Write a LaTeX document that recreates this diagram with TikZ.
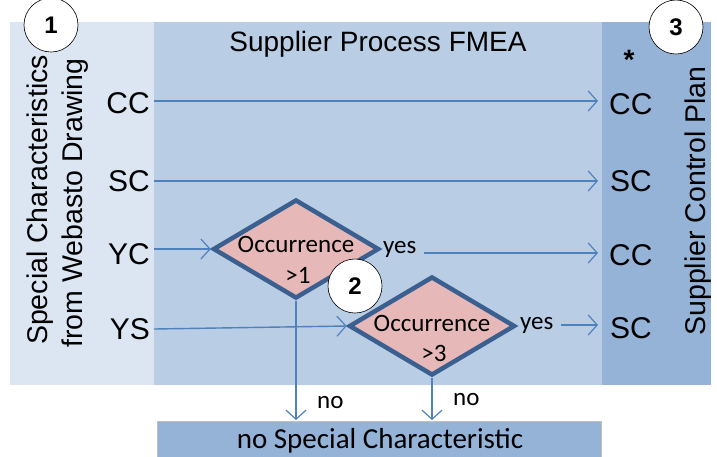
\documentclass[tikz,border=0pt]{standalone}
\usepackage{fontspec}
\setmainfont{Liberation Sans}
\newfontfamily\calib{Carlito}
\usetikzlibrary{shapes.geometric,arrows.meta}
\definecolor{pleft}{HTML}{DCE6F2}
\definecolor{pmid}{HTML}{B9CDE5}
\definecolor{pright}{HTML}{95B3D7}
\definecolor{arrowc}{HTML}{4F81BD}
\definecolor{dborder}{HTML}{3B5F8E}
\definecolor{dfill}{HTML}{E6B9B8}
\tikzset{
  lbl/.style={font=\fontsize{30}{34}\selectfont, inner sep=0pt},
  vlbl/.style={font=\fontsize{28.5}{32}\selectfont, inner sep=0pt, rotate=90},
  cal/.style={font=\calib\fontsize{25}{28}\selectfont, inner sep=0pt},
  flow/.style={draw=arrowc, line width=1.4pt, -{Straight Barb[length=9pt,width=20pt,line width=1.2pt]}},
  dec/.style={diamond, aspect=1.7, draw=dborder, line width=4.5pt, fill=dfill, minimum width=166pt, minimum height=99pt, inner sep=0pt},
  num/.style={circle, draw=black, line width=0.6pt, fill=white, minimum size=54pt, inner sep=0pt, font=\bfseries\fontsize{24}{26}\selectfont}
}
\begin{document}
\begin{tikzpicture}[x=1pt,y=-1pt]
\useasboundingbox (0,0) rectangle (717,456);
% panels
\fill[pleft] (10,22) rectangle (154,385);
\fill[pmid] (154,22) rectangle (602,385);
\fill[pright] (602,22) rectangle (711,385);
\node[draw=black!25, line width=1pt, fill=pright, minimum width=444pt, minimum height=40pt, anchor=north west, inner sep=0pt] (nosc) at (157,421) {};
\node[cal, font=\calib\fontsize{29}{32}\selectfont] (nosct) at (380,441) {no Special Characteristic};
% titles
\node[lbl, font=\fontsize{28}{32}\selectfont] (t2) at (378,44) {Supplier Process FMEA};
\node[vlbl, anchor=base] (t1a) at (47,200) {Special Characteristics};
\node[vlbl, anchor=base] (t1b) at (82,203) {from Webasto Drawing};
\node[vlbl, anchor=base] (t3) at (705,201) {Supplier Control Plan};
\node[lbl, font=\bfseries\fontsize{28}{30}\selectfont] (star) at (629,60) {*};
% left labels
\node[lbl, anchor=east] (cc) at (150,103) {CC};
\node[lbl, anchor=east] (sc) at (150,181) {SC};
\node[lbl, anchor=east] (yc) at (150,254) {YC};
\node[lbl, anchor=east] (ys) at (150,329) {YS};
% right labels
\node[lbl, anchor=west] (rcc) at (609,104) {CC};
\node[lbl, anchor=west] (rsc) at (610,181) {SC};
\node[lbl, anchor=west] (rcc2) at (609,255) {CC};
\node[lbl, anchor=west] (rsc2) at (610,328) {SC};
% decisions
\node[dec] (d1) at (296,249) {};
\node[cal] at (296,244) {Occurrence};
\node[cal] at (298,275) {>1};
\node[dec] (d2) at (432,326) {};
\node[cal] at (432,323) {Occurrence};
\node[cal] at (434,353) {>3};
\node[cal, anchor=west] (yes1) at (383,249) {yes};
\node[cal, anchor=west] (yes2) at (520,325) {yes};
\node[cal, anchor=west] (no1) at (317,403) {no};
\node[cal, anchor=west] (no2) at (453,400) {no};
% connectors
\draw[flow] (154,101) -- (598,101);
\draw[flow] (154,181) -- (598,181);
\draw[flow] (154,249) -- (d1.west);
\draw[flow] (424,253) -- (598,253);
\draw[flow] (154,329) -- (d2.west);
\draw[flow] (561,325) -- (598,325);
\draw[flow] (d1.south) -- (296,420);
\draw[flow] (d2.south) -- (432,420);
% numbered circles
\node[num] (n1) at (51,25) {1};
\node[num] (n2) at (355,286) {2};
\node[num] (n3) at (676,27) {3};
\end{tikzpicture}
\end{document}
